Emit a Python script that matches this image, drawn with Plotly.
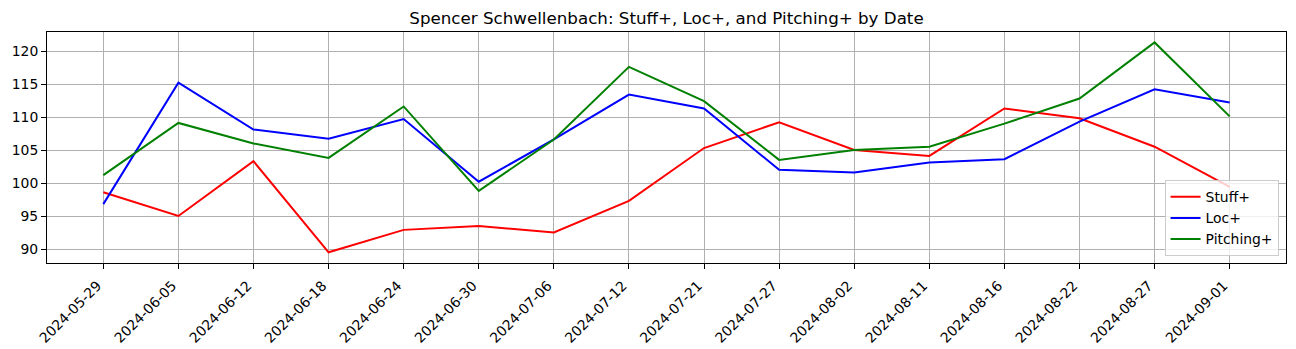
import plotly.graph_objects as go

dates = ["2024-05-29", "2024-06-05", "2024-06-12", "2024-06-18", "2024-06-24",
         "2024-06-30", "2024-07-06", "2024-07-12", "2024-07-21", "2024-07-27",
         "2024-08-02", "2024-08-11", "2024-08-16", "2024-08-22", "2024-08-27",
         "2024-09-01"]
stuff_plus = [98.6, 95.0, 103.3, 89.5, 92.9, 93.5, 92.5, 97.3, 105.3, 109.2,
              105.0, 104.1, 111.3, 109.8, 105.5, 99.4]
loc_plus = [96.8, 115.2, 108.1, 106.7, 109.7, 100.2, 106.6, 113.4, 111.3, 102.0,
            101.6, 103.1, 103.6, 109.3, 114.2, 112.2]
pitching_plus = [101.2, 109.1, 106.0, 103.8, 111.6, 98.8, 106.6, 117.6, 112.4, 103.5,
                 105.0, 105.5, 109.0, 112.8, 121.3, 110.1]
y_ticks = [90, 95, 100, 105, 110, 115, 120]

series = [("Stuff+", stuff_plus, "red"),
          ("Loc+", loc_plus, "blue"),
          ("Pitching+", pitching_plus, "green")]

FONT = "DejaVu Sans"
W, H = 1296, 349
L, R, T, B = 46.7, 9.6, 32.3, 85.7

fig = go.Figure()
for name, vals, color in series:
    fig.add_trace(go.Scatter(x=dates, y=vals, mode="lines", name=name,
                             line=dict(color=color, width=2)))

axis_common = dict(showline=True, linecolor="black", linewidth=1, mirror=True,
                   showgrid=True, gridcolor="#b0b0b0", gridwidth=0.8,
                   ticks="outside", ticklen=5, tickcolor="black", tickwidth=1,
                   zeroline=False, automargin=False,
                   tickfont=dict(family=FONT, size=13.9, color="black"))

fig.update_xaxes(type="category", range=[-0.75, len(dates) - 0.25],
                 tickangle=-45, ticklabelshift=-6, ticklabelstandoff=3,
                 **axis_common)
fig.update_yaxes(range=[87.88, 122.88], tickvals=y_ticks, **axis_common)

fig.update_layout(
    width=W, height=H,
    margin=dict(l=L, r=R, t=T, b=B, pad=0, autoexpand=False),
    paper_bgcolor="white", plot_bgcolor="white",
    title=dict(text="Spencer Schwellenbach: Stuff+, Loc+, and Pitching+ by Date",
               x=0.5, xref="paper", y=1 - 18 / H, yref="container",
               yanchor="middle", xanchor="center",
               font=dict(family=FONT, size=16.7, color="black")),
    legend=dict(x=0.994, y=0.029, xanchor="right", yanchor="bottom",
                bgcolor="rgba(255,255,255,0.8)", bordercolor="#cccccc", borderwidth=1,
                font=dict(family=FONT, size=13.9, color="black")),
    showlegend=True,
)

fig.write_html("out.html")
